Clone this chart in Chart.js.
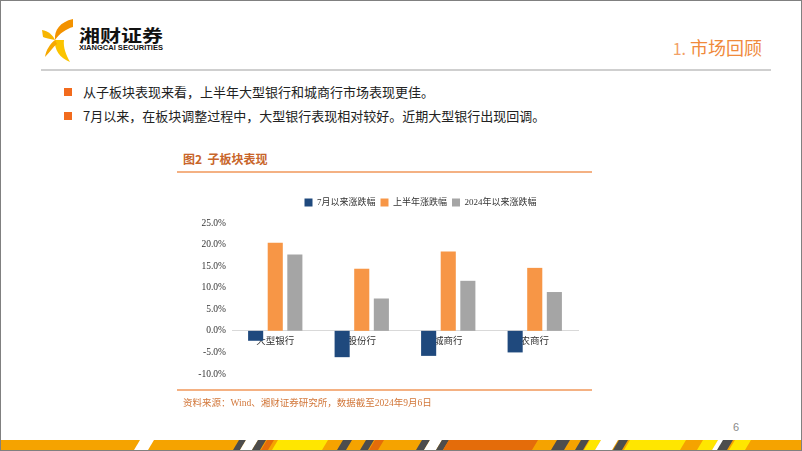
<!DOCTYPE html>
<html><head><meta charset="utf-8">
<script src="https://cdn.jsdelivr.net/npm/chart.js@4.4.1/dist/chart.umd.min.js"></script>
<style>
html,body{margin:0;padding:0;background:#fff;}
#page{position:relative;width:802px;height:451px;overflow:hidden;background:#fff;font-family:"Noto Sans CJK SC",sans-serif;}
.abs{position:absolute;}
#frame{left:0;top:0;width:800px;height:449px;border:1px solid #808080;}
#hdrline{left:41px;top:69px;width:730px;height:2px;background:#cfcfcf;}
#sect{left:600px;top:35px;width:162px;text-align:right;font-size:18px;color:#F08A3C;line-height:24px;white-space:nowrap;}
#sect .n{font-size:16px;color:#F2A167;}
.bul{left:64px;width:8px;height:8px;background:#F26B1D;}
.btxt{left:83px;font-size:13px;color:#222;line-height:16px;white-space:nowrap;font-family:"Noto Sans CJK SC",sans-serif;}
#ftitle{left:183px;top:151px;font-size:12px;font-weight:bold;color:#C8652A;line-height:16px;white-space:nowrap;}
#fline{left:177px;top:171px;width:415px;height:2px;background:#F4B183;}
#bline{left:177px;top:389px;width:415px;height:2px;background:#F4B183;}
#src{left:183px;top:396px;font-size:9.5px;color:#D2773A;line-height:14px;white-space:nowrap;font-family:"Liberation Serif","Noto Sans CJK SC",serif;}
#pnum{left:733px;top:421px;font-size:11px;color:#8a8a8a;font-family:"Liberation Sans",sans-serif;}
#wrap{left:175px;top:183px;width:490px;height:207px;}
</style></head><body>
<div id="page">
  <div class="abs" id="frame"></div>
  <svg class="abs" style="left:0;top:0" width="802" height="80">
    <path d="M73,19 C60,22 54,30 55,40 C60,33 66,29 73,27 Z" fill="#F39200"/>
    <path d="M42,30 C48,31 53,35 55,40 C50,39 45,38 43,37 Z" fill="#F7B500"/>
    <path d="M55,40 C54,50 60,58 70,62 C66,55 63,47 64,40 Z" fill="#FBC400"/>
    <path d="M55,40 C50,44 46,50 45,57 C50,52 53,47 57,44 Z" fill="#F6A800"/>
    <text x="79" y="42" font-family="Noto Sans CJK SC" font-weight="bold" font-size="17" fill="#111" textLength="84" lengthAdjust="spacingAndGlyphs">湘财证券</text>
    <text x="79" y="50" font-family="Liberation Sans" font-weight="bold" font-size="7.5" fill="#111" textLength="84" lengthAdjust="spacingAndGlyphs">XIANGCAI SECURITIES</text>
  </svg>
  <div class="abs" id="sect"><span class="n">1.</span> 市场回顾</div>
  <div class="abs" id="hdrline"></div>
  <div class="abs bul" style="top:88px"></div>
  <div class="abs btxt" style="top:84px">从子板块表现来看，上半年大型银行和城商行市场表现更佳。</div>
  <div class="abs bul" style="top:112px"></div>
  <div class="abs btxt" style="top:108px">7月以来，在板块调整过程中，大型银行表现相对较好。近期大型银行出现回调。</div>
  <div class="abs" id="ftitle">图2&nbsp;&nbsp;子板块表现</div>
  <div class="abs" id="fline"></div>
  <div class="abs" id="wrap"><canvas id="c" width="490" height="207"></canvas></div>
  <div class="abs" id="bline"></div>
  <div class="abs" id="src">资料来源：Wind、湘财证券研究所，数据截至2024年9月6日</div>
  <div class="abs" id="pnum">6</div>
  <svg class="abs" style="left:0;top:0" width="802" height="451" id="stripe"></svg>
</div>
<script>
// ---- data ----
const categories = ['大型银行', '股份行', '城商行', '农商行'];
const seriesNames = ['7月以来涨跌幅', '上半年涨跌幅', '2024年以来涨跌幅'];
const sinceJuly = [-2.3, -6.1, -5.8, -5.0];
const firstHalf = [20.4, 14.4, 18.4, 14.6];
const yearToDate = [17.7, 7.5, 11.6, 9.0];
const yTicks = [-10, -5, 0, 5, 10, 15, 20, 25];

// ---- decorative bottom stripe ----
(function(){
  const svg = document.getElementById('stripe');
  const ns = 'http://www.w3.org/2000/svg';
  const base = document.createElementNS(ns,'rect');
  base.setAttribute('x',1);base.setAttribute('y',440);base.setAttribute('width',800);base.setAttribute('height',10);
  base.setAttribute('fill','#F5A300');svg.appendChild(base);
  const W='#ffffff',G='#4d4d4d',D='#E46C0A',Y='#FFE600';
  const segs=[[134,148,W],[233,240,G],[240,252,W],[252,260,G],[261,268,D],[272,322,Y],[337,346,G],[360,368,G],[369,378,D],
    [416,424,G],[424,436,W],[436,443,G],[443,532,D],[551,564,G],[575,583,G],[584,595,Y],[595,612,W],[613,622,G],[624,680,Y],[697,712,Y],[712,718,W],[717,727,G],[729,745,Y]];
  segs.forEach(s=>{
    const p=document.createElementNS(ns,'polygon');
    p.setAttribute('points',`${s[0]},450 ${s[1]},450 ${s[1]+6},440 ${s[0]+6},440`);
    p.setAttribute('fill',s[2]);svg.appendChild(p);
  });
  const bl=document.createElementNS(ns,'rect');
  bl.setAttribute('x',0);bl.setAttribute('y',450);bl.setAttribute('width',802);bl.setAttribute('height',1);bl.setAttribute('fill','#808080');svg.appendChild(bl);
})();

// ---- chart ----
const fam = '"Liberation Serif", "Noto Sans CJK SC", serif';
const legendAdjust = {
  id: 'legendAdjust',
  beforeInit(chart) {
    const lg = chart.legend;
    if (!lg) return;
    const fit = lg.fit;
    lg.fit = function() { fit.call(this); this.height += 6; };
  },
  afterLayout(chart) {
    const lg = chart.legend;
    if (!lg) return;
    lg.left += 44; lg.right += 44;
  }
};
new Chart(document.getElementById('c'), {
  type: 'bar',
  data: {
    labels: categories,
    datasets: [
      {label: seriesNames[0], data: sinceJuly, backgroundColor: '#1F497D'},
      {label: seriesNames[1], data: firstHalf, backgroundColor: '#F79646'},
      {label: seriesNames[2], data: yearToDate, backgroundColor: '#A5A5A5'}
    ]
  },
  plugins: [legendAdjust],
  options: {
    responsive: false, animation: false, devicePixelRatio: 1,
    categoryPercentage: 0.68, barPercentage: 0.77,
    layout: {padding: {top: 10, right: 87, bottom: 16, left: 0}},
    plugins: {
      legend: {position: 'top', labels: {boxWidth: 8, boxHeight: 8, padding: 5, color: '#333', font: {size: 9, family: fam}}},
      tooltip: {enabled: false}
    },
    scales: {
      x: {position: {y: 0}, grid: {display: false, drawTicks: false}, border: {display: true, color: '#d9d9d9', width: 1},
          ticks: {color: '#333', padding: 5, font: {size: 9.5, family: fam}}},
      y: {min: yTicks[0], max: yTicks[yTicks.length-1], grid: {display: false, drawTicks: false}, border: {display: false},
          afterBuildTicks: s => { s.ticks = yTicks.map(v => ({value: v})); },
          ticks: {color: '#333', padding: 6, font: {size: 9.5, family: fam}, callback: v => v.toFixed(1) + '%'},
          afterFit: s => { s.width = 57; }}
    }
  }
});
</script>
</body></html>
